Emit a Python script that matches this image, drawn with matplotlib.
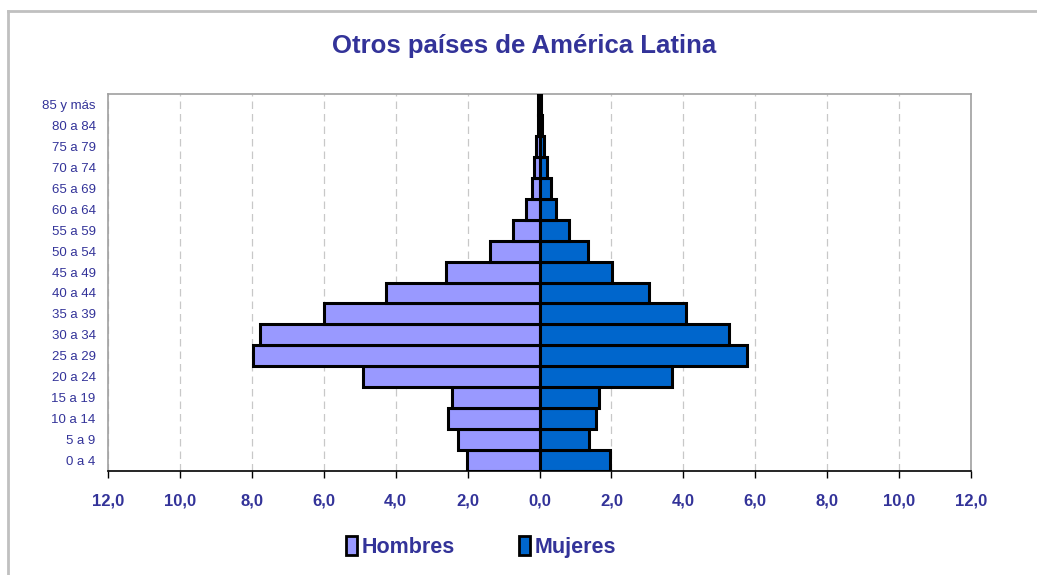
import numpy as np
import matplotlib.pyplot as plt
from matplotlib.patches import Patch
from matplotlib.lines import Line2D
from matplotlib.ticker import FuncFormatter, MultipleLocator

grupos = ['0 a 4', '5 a 9', '10 a 14', '15 a 19', '20 a 24', '25 a 29',
          '30 a 34', '35 a 39', '40 a 44', '45 a 49', '50 a 54', '55 a 59',
          '60 a 64', '65 a 69', '70 a 74', '75 a 79', '80 a 84', '85 y más']
hombres = [2.02, 2.28, 2.54, 2.44, 4.90, 7.97, 7.76, 5.99, 4.27, 2.61,
           1.39, 0.74, 0.37, 0.22, 0.14, 0.09, 0.05, 0.04]
mujeres = [1.97, 1.39, 1.56, 1.66, 3.69, 5.77, 5.27, 4.07, 3.04, 2.03,
           1.34, 0.82, 0.47, 0.31, 0.22, 0.13, 0.07, 0.05]

azul_texto = '#333399'
color_h = '#9999FF'
color_m = '#0066CC'

plt.rcParams['font.family'] = ['Liberation Sans', 'DejaVu Sans']

fig = plt.figure(figsize=(10.37, 5.75), dpi=100)
ax = fig.add_axes([108 / 1037, 1 - 471 / 575, 863 / 1037, 377 / 575])

y = np.arange(len(grupos))
ax.barh(y, -np.array(hombres), height=1.0, color=color_h, edgecolor='black',
        linewidth=2.2, zorder=3)
ax.barh(y, mujeres, height=1.0, color=color_m, edgecolor='black',
        linewidth=2.2, zorder=3)

ax.set_xlim(-12, 12)
ax.set_ylim(-0.5, len(grupos) - 0.5)
ax.xaxis.set_major_locator(MultipleLocator(2))
ax.xaxis.set_major_formatter(FuncFormatter(lambda v, p: ('%.1f' % abs(v)).replace('.', ',')))
ax.set_yticks(y)
ax.set_yticklabels(grupos)

ax.grid(axis='x', color='#C8C8C8', linestyle=(0, (6, 4)), linewidth=0.9, zorder=0)

for s in ['top', 'right', 'left']:
    ax.spines[s].set_color('#A0A0A0')
    ax.spines[s].set_linewidth(1.2)
ax.spines['bottom'].set_color('black')
ax.spines['bottom'].set_linewidth(1.2)

ax.tick_params(axis='x', direction='out', length=5, width=1, color='black',
               labelsize=12, labelcolor=azul_texto, pad=11)
ax.tick_params(axis='y', length=0, labelsize=9.5, labelcolor=azul_texto, pad=9)
for t in ax.get_xticklabels():
    t.set_fontweight('bold')

fig.text(524 / 1037, 1 - 46 / 575, 'Otros países de América Latina', ha='center',
         va='center', fontsize=18.5, fontweight='bold', color=azul_texto)

handles = [Patch(facecolor=color_h, edgecolor='black', linewidth=2),
           Patch(facecolor=color_m, edgecolor='black', linewidth=2)]
leg = fig.legend(handles, ['Hombres', 'Mujeres'], loc='center',
                 bbox_to_anchor=(481 / 1037, 1 - 547 / 575), ncol=2, frameon=False,
                 handlelength=0.5, handleheight=1.0, handletextpad=0.2,
                 columnspacing=3.0, prop={'size': 15.5, 'weight': 'bold'})
for t in leg.get_texts():
    t.set_color(azul_texto)

# marco del gráfico
fig.add_artist(Line2D([8 / 1037, 8 / 1037], [0, 1 - 11 / 575], color='#C0C0C0',
                      linewidth=2, transform=fig.transFigure))
fig.add_artist(Line2D([8 / 1037, 1], [1 - 11 / 575, 1 - 11 / 575], color='#C0C0C0',
                      linewidth=2, transform=fig.transFigure))

fig.savefig('out.png', dpi=100)
